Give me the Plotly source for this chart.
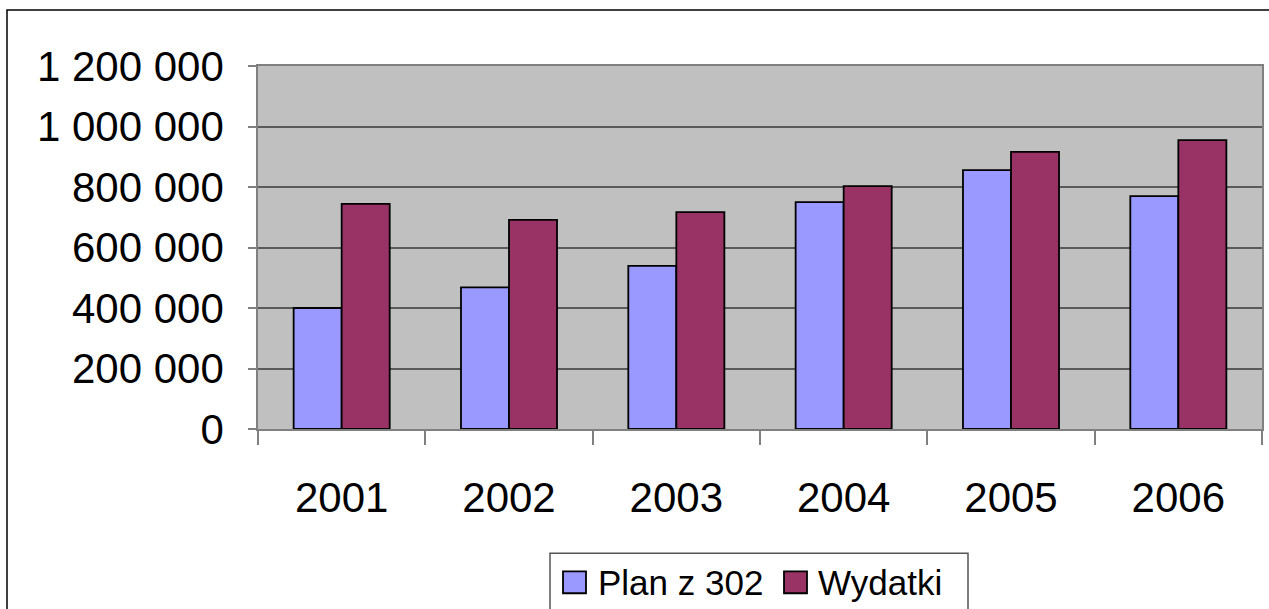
import plotly.graph_objects as go

years = ["2001", "2002", "2003", "2004", "2005", "2006"]
plan = [400000, 468000, 539000, 750000, 856000, 770000]
wydatki = [744000, 691000, 717000, 803000, 916000, 955000]
series_names = ["Plan z 302", "Wydatki"]
colors = ["#9999FF", "#993366"]
y_ticks = [0, 200000, 400000, 600000, 800000, 1000000, 1200000]
y_ticktext = ["0", "200 000", "400 000", "600 000", "800 000", "1 000 000", "1 200 000"]

W, H = 1269, 609
L, T, R = 258, 66, 7
B = H - 429.5
pw, ph = W - L - R, H - T - B
FONT = "Liberation Sans, Arial, sans-serif"


def px(x):
    return (x - L) / pw


def py(y):
    return (T + ph - y) / ph


fig = go.Figure()
for name, vals, c in zip(series_names, [plan, wydatki], colors):
    fig.add_trace(go.Bar(x=years, y=vals, name=name,
                         marker=dict(color=c, line=dict(color="black", width=1.8))))

fig.update_layout(
    width=W, height=H,
    margin=dict(l=L, r=R, t=T, b=B, autoexpand=False),
    paper_bgcolor="white", plot_bgcolor="#C0C0C0",
    font=dict(family=FONT, color="black"),
    barmode="group", bargap=0.426, bargroupgap=0,
    showlegend=False,
)
fig.update_xaxes(type="category", showline=True, linecolor="#808080", linewidth=1.5, mirror=True,
                 ticks="outside", tickson="boundaries", ticklen=14, tickcolor="#808080", tickwidth=1.5,
                 tickfont=dict(size=42), showgrid=False, ticklabelstandoff=31)
fig.update_yaxes(range=[0, 1200000], tickvals=y_ticks, ticktext=y_ticktext,
                 showline=True, linecolor="#808080", linewidth=1.5, mirror=True,
                 ticks="outside", ticklen=8, tickcolor="#808080", tickwidth=1.5,
                 showgrid=True, gridcolor="#5a5a5a", gridwidth=1.5, zeroline=False,
                 tickfont=dict(size=42), ticklabelstandoff=16)

# outer chart-area border
fig.add_shape(type="rect", xref="paper", yref="paper",
              x0=px(7), x1=px(W + 5), y0=py(H + 5), y1=py(10),
              line=dict(color="black", width=1.5), fillcolor="rgba(0,0,0,0)", layer="below")

# legend box (drawn to match the reference layout)
fig.add_shape(type="rect", xref="paper", yref="paper",
              x0=px(550), x1=px(968), y0=py(H + 5), y1=py(554),
              line=dict(color="#555555", width=1.5), fillcolor="white", layer="above")
sym_x = [563, 784]
txt_x = [596, 816]
for name, c, sx, tx in zip(series_names, colors, sym_x, txt_x):
    fig.add_shape(type="rect", xref="paper", yref="paper",
                  x0=px(sx), x1=px(sx + 23), y0=py(594), y1=py(572),
                  line=dict(color="black", width=1.8), fillcolor=c, layer="above")
    fig.add_annotation(text=name, xref="paper", yref="paper", x=px(tx), y=py(583),
                       xanchor="left", yanchor="middle", showarrow=False,
                       font=dict(size=35, family=FONT, color="black"))

fig.write_html("out.html", config={"displayModeBar": False},
               post_script="document.body.style.margin='0px';")
